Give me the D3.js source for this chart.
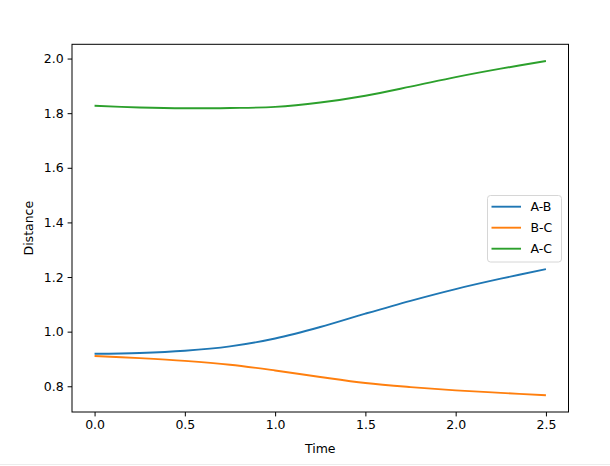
<!DOCTYPE html>
<html>
<head>
<meta charset="utf-8">
<script src="https://cdnjs.cloudflare.com/ajax/libs/d3/7.8.5/d3.min.js"></script>
<style>
  body { margin: 0; background: #fff; }
  svg text { font-family: "DejaVu Sans", sans-serif; font-size: 12.5px; fill: #000; }
</style>
</head>
<body>
<div id="chart"></div>
<script>
var times = [0, 0.25, 0.5, 0.75, 1.0, 1.25, 1.5, 1.75, 2.0, 2.25, 2.5];
var distAB = [0.919, 0.922, 0.930, 0.946, 0.975, 1.017, 1.066, 1.113, 1.156, 1.194, 1.229];
var distBC = [0.911, 0.903, 0.893, 0.879, 0.858, 0.834, 0.812, 0.797, 0.785, 0.776, 0.767];
var distAC = [1.827, 1.821, 1.818, 1.819, 1.823, 1.839, 1.864, 1.897, 1.932, 1.963, 1.991];
var seriesNames = ["A-B", "B-C", "A-C"];
var seriesColors = ["#1f77b4", "#ff7f0e", "#2ca02c"];
var xTicks = [0, 0.5, 1.0, 1.5, 2.0, 2.5];
var yTicks = [0.8, 1.0, 1.2, 1.4, 1.6, 1.8, 2.0];

var width = 610;
var height = 466;
var plotLeft = 72, plotRight = 568.5, plotTop = 44.3, plotBottom = 412;

var svg = d3.select("#chart")
  .append("svg")
  .attr("width", width)
  .attr("height", height);

var series = [distAB, distBC, distAC];

// Achsenbereich wie matplotlib: 5% Rand
var xmin = d3.min(times), xmax = d3.max(times);
var xpad = (xmax - xmin) * 0.05;
var allVals = d3.merge(series);
var ymin = d3.min(allVals), ymax = d3.max(allVals);
var ypad = (ymax - ymin) * 0.05;

var x = d3.scaleLinear().domain([xmin - xpad, xmax + xpad]).range([plotLeft, plotRight]);
var y = d3.scaleLinear().domain([ymin - ypad, ymax + ypad]).range([plotBottom, plotTop]);

// Linien
var line = d3.line()
  .x(function(d, i) { return x(times[i]); })
  .y(function(d) { return y(d); })
  .curve(d3.curveCatmullRom.alpha(0.5));

series.forEach(function(s, k) {
  svg.append("path")
    .datum(s)
    .attr("d", line)
    .attr("fill", "none")
    .attr("stroke", seriesColors[k])
    .attr("stroke-width", 1.9);
});

// Achsen
var xAxis = svg.append("g")
  .attr("transform", "translate(0," + plotBottom + ")")
  .call(d3.axisBottom(x).tickValues(xTicks).tickFormat(d3.format(".1f")).tickSize(4.4).tickPadding(4));
var yAxis = svg.append("g")
  .attr("transform", "translate(" + plotLeft + ",0)")
  .call(d3.axisLeft(y).tickValues(yTicks).tickFormat(d3.format(".1f")).tickSize(4.4).tickPadding(4));
[xAxis, yAxis].forEach(function(a) {
  a.select(".domain").remove();
  a.selectAll("text").attr("font-family", "DejaVu Sans").attr("font-size", 12.5).attr("fill", "#000");
  a.selectAll("line").attr("stroke", "#000").attr("stroke-width", 1);
});

// Rahmen
svg.append("rect")
  .attr("x", plotLeft)
  .attr("y", plotTop)
  .attr("width", plotRight - plotLeft)
  .attr("height", plotBottom - plotTop)
  .attr("fill", "none")
  .attr("stroke", "#000")
  .attr("stroke-width", 1);

// Beschriftungen
svg.append("text")
  .attr("x", (plotLeft + plotRight) / 2)
  .attr("y", 452.5)
  .attr("text-anchor", "middle")
  .text("Time");
svg.append("text")
  .attr("transform", "translate(33," + ((plotTop + plotBottom) / 2) + ") rotate(-90)")
  .attr("text-anchor", "middle")
  .text("Distance");

// Legende
var lg = svg.append("g").attr("transform", "translate(487.5,195.5)");
lg.append("rect")
  .attr("width", 74)
  .attr("height", 66.5)
  .attr("rx", 3)
  .attr("fill", "#fff")
  .attr("fill-opacity", 0.8)
  .attr("stroke", "#d6d6d6")
  .attr("stroke-width", 1);
seriesNames.forEach(function(n, k) {
  var ly = 11.2 + k * 21;
  lg.append("line")
    .attr("x1", 4).attr("x2", 33.5)
    .attr("y1", ly).attr("y2", ly)
    .attr("stroke", seriesColors[k])
    .attr("stroke-width", 1.9);
  lg.append("text")
    .attr("x", 43)
    .attr("y", ly + 4.5)
    .text(n);
});

// graue Linie am unteren Rand
svg.append("line")
  .attr("x1", 0).attr("x2", width)
  .attr("y1", 464.5).attr("y2", 464.5)
  .attr("stroke", "#ececec")
  .attr("stroke-width", 1);
</script>
</body>
</html>
